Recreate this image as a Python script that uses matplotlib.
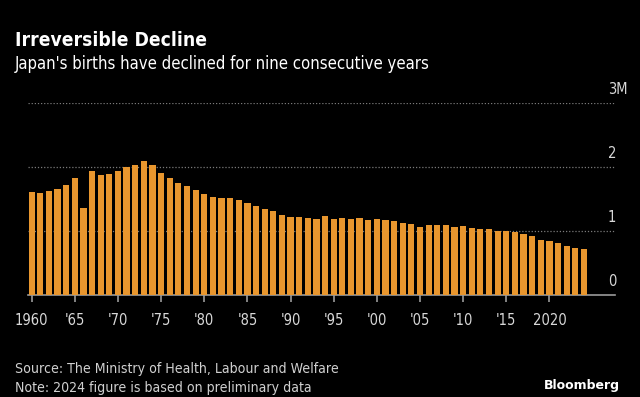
import matplotlib
matplotlib.use("Agg")
import matplotlib.pyplot as plt
from matplotlib.transforms import blended_transform_factory, offset_copy

years = list(range(1960, 2025))
births_m = [1.606, 1.589, 1.619, 1.660, 1.717, 1.824, 1.361, 1.936, 1.872, 1.890,
            1.934, 2.001, 2.039, 2.092, 2.030, 1.901, 1.833, 1.755, 1.709, 1.643,
            1.577, 1.529, 1.515, 1.509, 1.490, 1.432, 1.383, 1.347, 1.314, 1.247,
            1.222, 1.223, 1.209, 1.188, 1.238, 1.187, 1.207, 1.192, 1.203, 1.178,
            1.191, 1.171, 1.154, 1.124, 1.111, 1.063, 1.093, 1.090, 1.091, 1.070,
            1.071, 1.051, 1.037, 1.030, 1.004, 1.006, 0.977, 0.946, 0.918, 0.865,
            0.841, 0.812, 0.771, 0.727, 0.721]
xtick_years = [1960, 1965, 1970, 1975, 1980, 1985, 1990, 1995, 2000, 2005, 2010, 2015, 2020]
xtick_labels = ["1960", "'65", "'70", "'75", "'80", "'85", "'90", "'95", "'00", "'05", "'10", "'15", "2020"]
ytick_vals = [0, 1, 2, 3]
ytick_labels = ["0", "1", "2", "3M"]

plt.rcParams['font.family'] = ['DejaVu Sans']
W, H = 640, 397
fig = plt.figure(figsize=(6.4, 3.97), dpi=100, facecolor='black')
ax = fig.add_axes([27.8 / W, 1 - 295 / H, (615 - 27.8) / W, (295 - 103) / H])
ax.set_facecolor('black')

ax.bar(years, births_m, width=0.72, color='#E8962E', zorder=3)
ax.set_xlim(1959.55, 2027.6)
ax.set_ylim(0, 3)

for v in ytick_vals[1:]:
    ax.axhline(v, color='#7a7a7a', lw=0.9, ls=(0, (1, 1.5)), zorder=1)

for s in ['top', 'right', 'left']:
    ax.spines[s].set_visible(False)
ax.spines['bottom'].set_color('#9a9a9a')
ax.spines['bottom'].set_linewidth(1.2)
ax.set_yticks([])
ax.set_xticks(xtick_years)
ax.set_xticklabels(xtick_labels, fontstretch='condensed')
ax.tick_params(axis='x', colors='#9a9a9a', length=5, width=1.2, labelcolor='#d8d8d8',
               labelsize=10.5, pad=8)

tr = blended_transform_factory(ax.transAxes, ax.transData)
tr = offset_copy(tr, fig=fig, x=0, y=6, units='dots')
for v, lab in zip(ytick_vals, ytick_labels):
    ax.text((608 - 27.8) / (615 - 27.8), v, lab, transform=tr, ha='left', va='bottom',
            color='#d8d8d8', fontsize=10.5, fontstretch='condensed')

fig.text(15 / W, 1 - 40 / H, "Irreversible Decline", color='white', fontsize=13.8,
         fontweight='bold', va='center', ha='left', fontstretch='condensed')
fig.text(15 / W, 1 - 64 / H, "Japan's births have declined for nine consecutive years",
         color='white', fontsize=12, va='center', ha='left', fontstretch='condensed')
fig.text(15 / W, 1 - 369 / H, "Source: The Ministry of Health, Labour and Welfare",
         color='#d0d0d0', fontsize=10.1, va='center', ha='left', fontstretch='condensed')
fig.text(15 / W, 1 - 388 / H, "Note: 2024 figure is based on preliminary data",
         color='#d0d0d0', fontsize=10.1, va='center', ha='left', fontstretch='condensed')
fig.text(620 / W, 1 - 385 / H, "Bloomberg", color='white', fontsize=9,
         fontweight='bold', va='center', ha='right')

fig.savefig('out.png', dpi=100, facecolor='black')
